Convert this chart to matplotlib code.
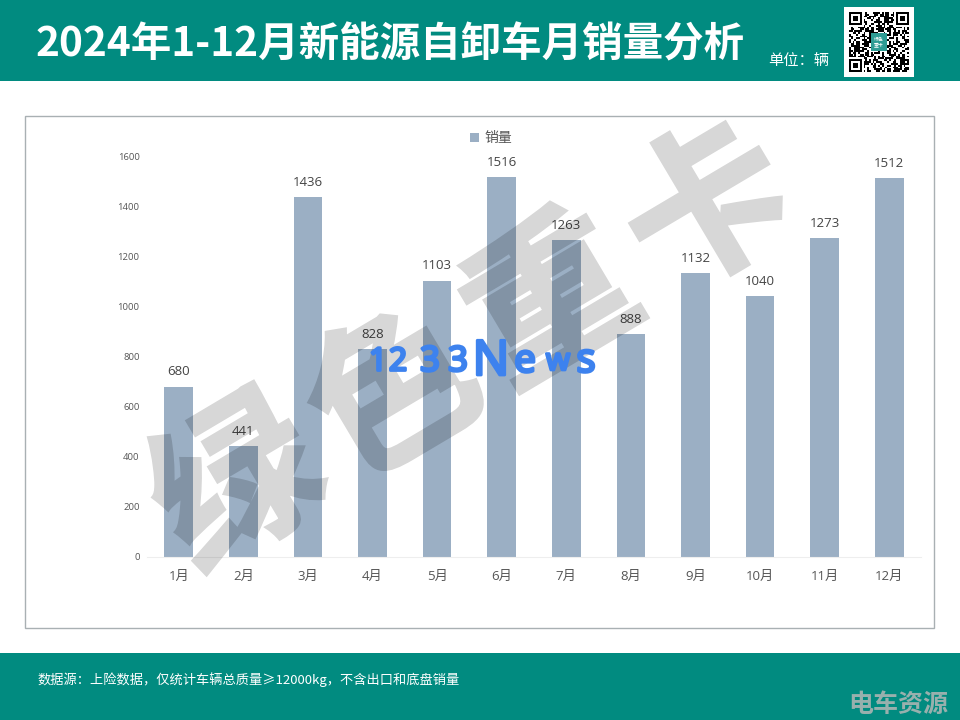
import hashlib
import numpy as np
import matplotlib
matplotlib.use("Agg")
import matplotlib.pyplot as plt
import matplotlib.patheffects as pe
from matplotlib.patches import Rectangle

plt.rcParams['font.family'] = ['Noto Sans CJK SC', 'DejaVu Sans']

months = ['1月', '2月', '3月', '4月', '5月', '6月', '7月', '8月', '9月', '10月', '11月', '12月']
sales = [680, 441, 1436, 828, 1103, 1516, 1263, 888, 1132, 1040, 1273, 1512]
yticks = [0, 200, 400, 600, 800, 1000, 1200, 1400, 1600]

TEAL = '#018b80'
BAR = '#9bafc4'
LABEL_FONT = ['Open Sans', 'Noto Sans CJK SC']
W, H = 960, 720


def add_px_axes(fig, x0, y0, x1, y1, **kw):
    # pixel box with y measured from the top of the image
    return fig.add_axes([x0 / W, 1 - y1 / H, (x1 - x0) / W, (y1 - y0) / H], **kw)


def fade_filter(img, dpi):
    # text is drawn opaque so the stroke and fill do not double up, then faded here
    img = img.copy()
    img[:, :, 3] *= 0.16
    return img, 0, 0


fig = plt.figure(figsize=(9.6, 7.2), dpi=100, facecolor='white')

# page layer in pixel coordinates
bg = fig.add_axes([0, 0, 1, 1])
bg.set_xlim(0, W)
bg.set_ylim(H, 0)
bg.axis('off')
bg.add_patch(Rectangle((0, 0), W, 81, color=TEAL, lw=0))
bg.add_patch(Rectangle((0, 653), W, 67, color=TEAL, lw=0))
bg.add_patch(Rectangle((25, 116), 909, 512, fc='white', ec='#a9b0b3', lw=1))

bg.text(36, 45, '2024年1-12月新能源自卸车月销量分析', color='white', fontsize=29.2,
        fontweight='black', va='center', ha='left')
bg.text(768, 61, '单位：辆', color='white', fontsize=11, va='center', ha='left')
bg.text(37, 680, '数据源：上险数据，仅统计车辆总质量≥12000kg，不含出口和底盘销量',
        color='white', fontsize=9.5, va='center', ha='left')
bg.text(948, 705, '电车资源', color='#98b0ad', fontsize=18, fontweight='bold',
        va='center', ha='right')

# chart
ax = add_px_axes(fig, 146.5, 156, 921.5, 557)
ax.patch.set_alpha(0)
x = np.arange(len(months))
ax.bar(x, sales, width=0.445, color=BAR)
ax.set_xlim(-0.5, len(months) - 0.5)
ax.set_ylim(0, 1600)
ax.set_xticks(x)
ax.set_xticklabels(months, fontsize=9.5, color='#555555', family=LABEL_FONT)
ax.set_yticks(yticks)
ax.set_yticklabels([str(v) for v in yticks], fontsize=6.8, color='#555555', family=LABEL_FONT)
ax.tick_params(axis='both', length=0)
ax.tick_params(axis='x', pad=9.5)
ax.tick_params(axis='y', pad=5)
for s in ['top', 'left', 'right']:
    ax.spines[s].set_visible(False)
ax.spines['bottom'].set_color('#eeeeee')
for xi, v in zip(x, sales):
    ax.annotate(str(v), (xi, v), xytext=(0, 6), textcoords='offset points',
                ha='center', va='bottom', fontsize=9.5, color='#444444', family=LABEL_FONT)

# legend
bg.add_patch(Rectangle((470, 133), 9, 9, color=BAR, lw=0))
bg.text(484, 138, '销量', fontsize=10, color='#555555', va='center', ha='left')

# watermarks sit on top of everything
top = fig.add_axes([0, 0, 1, 1], zorder=5)
top.set_xlim(0, W)
top.set_ylim(H, 0)
top.axis('off')
for i, ch in enumerate('绿色重卡'):
    wm = top.text(240 + 157 * i, 490 - 92 * i, ch, fontsize=118, fontweight='black', color='black',
                  rotation=30.7, rotation_mode='anchor', ha='center', va='center',
                  path_effects=[pe.Stroke(linewidth=2.5, foreground='black', joinstyle='miter'),
                                pe.Normal()])
    wm.set_agg_filter(fade_filter)

logo_chars = '1233News'
logo_x = [378, 398, 430, 458, 491, 525, 558, 586]
logo_size = [23, 23, 25, 25, 35, 28, 22, 29]
for ch, cx, fs in zip(logo_chars, logo_x, logo_size):
    top.text(cx, 362, ch, fontsize=fs, color='#3d82ee', ha='center', va='center', family='Noto Sans',
             path_effects=[pe.Stroke(linewidth=2, foreground='#3d82ee', joinstyle='round'),
                           pe.Normal()])

# QR code block, decorative only
n = 33
digest = hashlib.sha256(b'qr').digest() * 40
bits = np.unpackbits(np.frombuffer(digest[:n * n], dtype=np.uint8))[:n * n].reshape(n, n)
for r, c in [(0, 0), (0, n - 7), (n - 7, 0)]:
    bits[max(r - 1, 0):r + 8, max(c - 1, 0):c + 8] = 0
    bits[r:r + 7, c:c + 7] = 1
    bits[r + 1:r + 6, c + 1:c + 6] = 0
    bits[r + 2:r + 5, c + 2:c + 5] = 1
bg.add_patch(Rectangle((844, 7), 70, 70, color='white', lw=0))
bg.imshow(1 - bits, cmap='gray', extent=(849, 909, 72, 12), interpolation='nearest', zorder=3,
          aspect='auto')
bg.add_patch(Rectangle((871, 33), 16, 18, color='#2f9c94', lw=0, zorder=4))
bg.text(879, 42, '绿色\n重卡', color='white', fontsize=3.5, ha='center', va='center', zorder=5)
bg.set_xlim(0, W)
bg.set_ylim(H, 0)

fig.savefig('out.png', dpi=100)
